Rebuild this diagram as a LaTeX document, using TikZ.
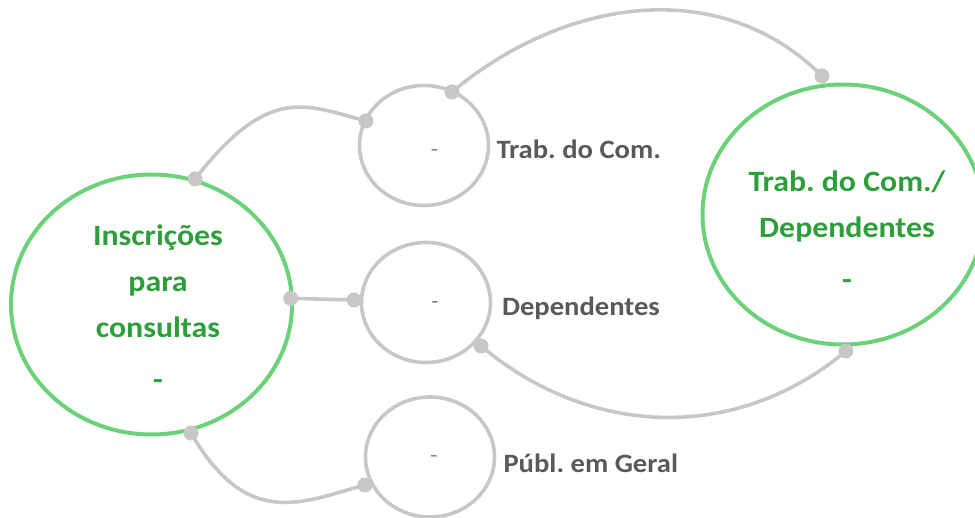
\documentclass[tikz,border=0pt]{standalone}
\usepackage{fontspec}
\setmainfont[FakeStretch=1.08]{Carlito}
\usetikzlibrary{calc,positioning,shapes.geometric}
\frenchspacing

\definecolor{ringgray}{RGB}{199,199,199}
\definecolor{labelgray}{RGB}{89,89,89}
\definecolor{dashgray}{RGB}{128,128,128}
\definecolor{ringgreen}{RGB}{108,210,122}
\definecolor{textgreen}{RGB}{44,158,58}

\tikzset{
  bigring/.style={ellipse,draw=ringgreen,line width=4pt,minimum width=281pt,minimum height=260pt,inner sep=0pt},
  smallring/.style={ellipse,draw=ringgray,line width=3.6pt,minimum width=129pt,minimum height=120pt,inner sep=0pt},
  knob/.style={circle,fill=ringgray,minimum size=15pt,inner sep=0pt},
  link/.style={draw=ringgray,line width=3.6pt},
  maintext/.style={text=textgreen,font=\fontsize{29.5}{46}\selectfont\bfseries,align=center,inner sep=0pt},
  sidetext/.style={text=labelgray,font=\fontsize{26.5}{32}\selectfont\bfseries,inner sep=0pt},
  blank/.style={text=dashgray,font=\fontsize{22}{24}\selectfont,inner sep=0pt},
}

\begin{document}
\begin{tikzpicture}[x=1pt,y=1pt]
\useasboundingbox (0,0) rectangle (975,517);

\node[bigring](insc) at (151.5,212.5) {};
\node[bigring](trdep) at (843,302.5) {};
\node[smallring](trab) at (424,371.5) {};
\node[smallring](dep) at (426,214.5) {};
\node[smallring](publ) at (430,60) {};

\node[maintext](insc-t) at ($(insc)+(6.5,-2.5)$) {Inscrições\\para\\consultas\\[6pt]-};
\node[maintext](trdep-t) at ($(trdep)+(4,-15.5)$) {Trab. do Com./\\Dependentes\\[6pt]-};

\node[blank](trab-d) at ($(trab)+(10.5,-7)$) {-};
\node[blank](dep-d) at ($(dep)+(9,-2.7)$) {-};
\node[blank](publ-d) at ($(publ)+(4,-2)$) {-};

\node[sidetext,right=6pt of trab,yshift=-3.5pt](trab-l){Trab. do Com.};
\node[sidetext,right=9.5pt of dep,yshift=-6pt](dep-l){Dependentes};
\node[sidetext,right=7pt of publ,yshift=-6.5pt](publ-l){Públ. em Geral};

% connector ends
\coordinate (k1) at ($(insc)+(43.5,125.5)$);
\coordinate (k2) at ($(insc)+(139.2,6.2)$);
\coordinate (k3) at ($(insc)+(39.5,-128.5)$);
\coordinate (k4) at ($(trab)+(-58,24.5)$);
\coordinate (k5) at ($(trab)+(28,53.5)$);
\coordinate (k6) at ($(dep)+(-72,2.5)$);
\coordinate (k7) at ($(dep)+(55,-43.5)$);
\coordinate (k8) at ($(publ)+(-65,-28)$);
\coordinate (k9) at ($(trdep)+(-21,138.5)$);
\coordinate (k10) at ($(trdep)+(3,-136.5)$);

\draw[link] (k1) to [out=52,in=165,out looseness=1.7,in looseness=0.9] (k4);
\draw[link] (k5) to [out=40,in=135] (k9);
\draw[link] (k2) -- (k6);
\draw[link] (k7) to [out=-40,in=-140] (k10);
\draw[link] (k3) to [out=-60,in=195,out looseness=1.6,in looseness=0.9] (k8);

\foreach \k in {k1,k2,k3,k4,k5,k6,k7,k8,k9,k10}
  \node[knob] at (\k) {};

\end{tikzpicture}
\end{document}
